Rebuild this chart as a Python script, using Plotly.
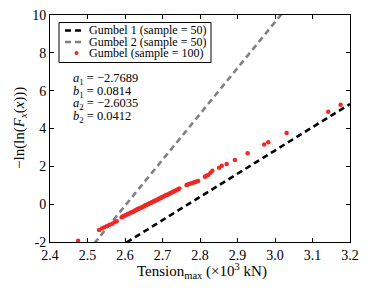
import plotly.graph_objects as go

# ---------------- data ----------------
a_params = [-2.7689, -2.6035]
b_params = [0.0814, 0.0412]
line_names = ["Gumbel 1 (sample = 50)", "Gumbel 2 (sample = 50)"]
sample_name = "Gumbel (sample = 100)"
x_range_line = [2.4, 3.2]

sample_x = [2.475,
            2.531, 2.538, 2.545, 2.552, 2.559, 2.566, 2.572, 2.578,
            2.591, 2.594, 2.598, 2.601, 2.605, 2.608, 2.611, 2.615, 2.618, 2.621,
            2.624, 2.627, 2.630, 2.632, 2.635, 2.638, 2.641, 2.644, 2.647, 2.650,
            2.652, 2.655, 2.658, 2.661, 2.663, 2.666, 2.669, 2.672, 2.675, 2.677,
            2.680, 2.683, 2.686, 2.689, 2.692, 2.695, 2.697, 2.700, 2.703, 2.706,
            2.709, 2.712, 2.716, 2.719, 2.722, 2.725, 2.728, 2.732, 2.735, 2.738,
            2.742, 2.745,
            2.764, 2.769, 2.773, 2.778, 2.783, 2.787, 2.791, 2.795,
            2.813, 2.817, 2.822, 2.828, 2.833, 2.851, 2.858, 2.871, 2.893, 2.927,
            2.971, 2.982, 3.031, 3.142, 3.175]
sample_y = [-1.93,
            -1.36, -1.29, -1.22, -1.16, -1.09, -1.03, -0.96, -0.90,
            -0.694, -0.658, -0.623, -0.589, -0.556, -0.523, -0.492, -0.460, -0.430, -0.400,
            -0.370, -0.341, -0.312, -0.284, -0.255, -0.227, -0.200, -0.172, -0.144, -0.117,
            -0.090, -0.062, -0.035, -0.008, 0.019, 0.047, 0.074, 0.101, 0.128, 0.156,
            0.183, 0.211, 0.239, 0.267, 0.295, 0.324, 0.352, 0.381, 0.410, 0.439,
            0.469, 0.499, 0.530, 0.560, 0.592, 0.623, 0.656, 0.688, 0.721, 0.755,
            0.789, 0.824,
            1.01, 1.05, 1.08, 1.11, 1.14, 1.17, 1.20, 1.23,
            1.45, 1.50, 1.54, 1.66, 1.77, 1.93, 2.03, 2.12, 2.34, 2.69,
            3.15, 3.27, 3.76, 4.89, 5.26]

x_ticks = [2.4, 2.5, 2.6, 2.7, 2.8, 2.9, 3.0, 3.1, 3.2]
x_tick_labels = ["2.4", "2.5", "2.6", "2.7", "2.8", "2.9", "3.0", "3.1", "3.2"]
y_ticks = [-2, 0, 2, 4, 6, 8, 10]
y_tick_labels = ["-2", "0", "2", "4", "6", "8", "10"]
x_title = "Tension<sub>max</sub> (×10<sup>3</sup> kN)"
y_title = "−ln(ln(<i>F</i><sub><i>x</i></sub>(<i>x</i>)))"

# ---------------- styles ----------------
FONT = "Liberation Serif, Times New Roman, DejaVu Serif, serif"
line_colors = ["#000000", "#808080"]
red = "#ee2a24"

fig = go.Figure()
for a, b, col, nm in zip(a_params, b_params, line_colors, line_names):
    ys = [(x + a) / b for x in x_range_line]
    fig.add_trace(go.Scatter(x=x_range_line, y=ys, mode="lines", name=nm,
                             line=dict(color=col, width=2.6, dash="6px,4px"),
                             showlegend=False, hoverinfo="skip"))

fig.add_trace(go.Scatter(x=sample_x, y=sample_y, mode="markers", name=sample_name,
                         marker=dict(color=red, size=4.5, line=dict(width=0)),
                         showlegend=False, cliponaxis=False))

# page has an 8px body margin: figure sits at (8, 8) in the window
OFF = 8
W, H = 368 - OFF, 292 - OFF
L, R, T, B = 42, 18, 7, 50
pw, ph = W - L - R, H - T - B


def px(wx):
    return (wx - OFF - L) / pw


def py(wy):
    return 1 - (wy - OFF - T) / ph


shapes = []
annotations = []

# custom legend
shapes.append(dict(type="rect", xref="paper", yref="paper",
                   x0=px(59), x1=px(211), y0=py(62.5), y1=py(22.5),
                   line=dict(color="black", width=1), fillcolor="white", layer="above"))
rows = [30.5, 42.0, 53.0]
for i, (col, nm) in enumerate(zip(line_colors, line_names)):
    shapes.append(dict(type="line", xref="paper", yref="paper",
                       x0=px(65), x1=px(83), y0=py(rows[i]), y1=py(rows[i]),
                       line=dict(color=col, width=2.6, dash="6px,4px"), layer="above"))
    annotations.append(dict(text=nm, xref="paper", yref="paper", x=px(87), y=py(rows[i]),
                            xanchor="left", yanchor="middle", showarrow=False,
                            font=dict(family=FONT, size=12, color="black")))
shapes.append(dict(type="circle", xref="paper", yref="paper",
                   xsizemode="pixel", ysizemode="pixel",
                   xanchor=px(76.5), yanchor=py(rows[2]),
                   x0=-2, x1=2, y0=-2, y1=2,
                   fillcolor=red, line=dict(width=0), layer="above"))
annotations.append(dict(text=sample_name, xref="paper", yref="paper", x=px(87), y=py(rows[2]),
                        xanchor="left", yanchor="middle", showarrow=False,
                        font=dict(family=FONT, size=12, color="black")))

# parameter annotations
param_texts = [
    f"<i>a</i><sub>1</sub> = −{abs(a_params[0]):.4f}",
    f"<i>b</i><sub>1</sub> = {b_params[0]:.4f}",
    f"<i>a</i><sub>2</sub> = −{abs(a_params[1]):.4f}",
    f"<i>b</i><sub>2</sub> = {b_params[1]:.4f}",
]
param_rows = [79, 91.5, 104, 116.5]
for t, r in zip(param_texts, param_rows):
    annotations.append(dict(text=t, xref="paper", yref="paper", x=px(71), y=py(r),
                            xanchor="left", yanchor="middle", showarrow=False,
                            font=dict(family=FONT, size=12.5, color="black")))

# axis titles
annotations.append(dict(text=x_title, xref="paper", yref="paper", x=px(202), y=py(271),
                        xanchor="center", yanchor="middle", showarrow=False,
                        font=dict(family=FONT, size=15, color="black")))
annotations.append(dict(text=y_title, xref="paper", yref="paper", x=px(20), y=py(128),
                        xanchor="center", yanchor="middle", showarrow=False, textangle=-90,
                        font=dict(family=FONT, size=15, color="black")))

axis_common = dict(showline=True, linecolor="black", linewidth=1, mirror="ticks",
                   ticks="inside", ticklen=4, tickcolor="black", tickwidth=1,
                   showgrid=False, zeroline=False, automargin=False,
                   ticklabeloverflow="allow",
                   tickfont=dict(family=FONT, size=14, color="black"))

fig.update_layout(
    width=W, height=H,
    margin=dict(l=L, r=R, t=T, b=B, autoexpand=False),
    paper_bgcolor="white", plot_bgcolor="white",
    font=dict(family=FONT, color="black"),
    xaxis=dict(range=[2.4, 3.2], tickvals=x_ticks, ticktext=x_tick_labels, **axis_common),
    yaxis=dict(range=[-2, 10], tickvals=y_ticks, ticktext=y_tick_labels, **axis_common),
    shapes=shapes,
    annotations=annotations,
    showlegend=False,
)

fig.write_html("out.html")
